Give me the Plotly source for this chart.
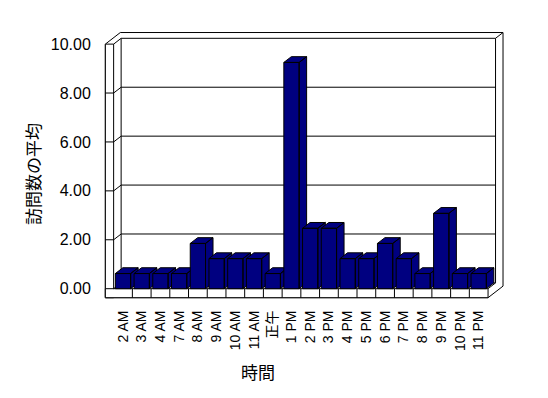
import plotly.graph_objects as go

# ---- data ----
categories = ["2 AM", "3 AM", "4 AM", "7 AM", "8 AM", "9 AM", "10 AM", "11 AM", "正午",
              "1 PM", "2 PM", "3 PM", "4 PM", "5 PM", "6 PM", "7 PM", "8 PM", "9 PM",
              "10 PM", "11 PM"]
avg_visits = [0.62, 0.62, 0.62, 0.62, 1.85, 1.23, 1.23, 1.23, 0.62,
              9.25, 2.47, 2.47, 1.23, 1.23, 1.85, 1.23, 0.62, 3.08,
              0.62, 0.62]
y_tick_values = [0, 2, 4, 6, 8, 10]
y_tick_labels = ["0.00", "2.00", "4.00", "6.00", "8.00", "10.00"]
x_title = "時間"
y_title = "訪問数の平均"

# ---- 3D-look styling parameters (in axis units) ----
BAR_W = 0.817      # bar front-face width (category units)
DX = 0.40          # depth offset along x (category units)
DY = 0.237         # depth offset along y (value units)
WALL_T = 0.443     # left wall thickness
FLOOR_T = 0.368    # floor thickness
NAVY = "#000080"
LINE = dict(color="black", width=1)

n = len(categories)
X0, X1 = -0.5, n - 0.5
Y0, Y1 = 0, 10

fig = go.Figure()

shapes = []

def seg(xa, ya, xb, yb):
    shapes.append(dict(type="line", xref="x", yref="y", x0=xa, y0=ya, x1=xb, y1=yb,
                       line=LINE, layer="below"))

def poly(pts, fill="white"):
    path = "M " + " L ".join(f"{x},{y}" for x, y in pts) + " Z"
    shapes.append(dict(type="path", xref="x", yref="y", path=path,
                       fillcolor=fill, line=LINE, layer="below"))

# outer silhouette of the box
poly([(X0 - WALL_T, Y0 - FLOOR_T), (X0 - WALL_T, Y1),
      (X0 - WALL_T + 2 * DX, Y1 + 2 * DY), (X1 + 2 * DX, Y1 + 2 * DY),
      (X1 + 2 * DX, Y0 - FLOOR_T + 2 * DY), (X1, Y0 - FLOOR_T)])
# back wall front face
poly([(X0 + DX, Y0 + DY), (X0 + DX, Y1 + DY), (X1 + DX, Y1 + DY), (X1 + DX, Y0 + DY)])
# left wall front face
poly([(X0 - WALL_T, Y0 - FLOOR_T), (X0 - WALL_T, Y1), (X0, Y1), (X0, Y0 - FLOOR_T)])
# floor front face
poly([(X0 - WALL_T, Y0 - FLOOR_T), (X0 - WALL_T, Y0), (X1, Y0), (X1, Y0 - FLOOR_T)])
# floor category cells
for i in range(n - 1):
    seg(i + 0.5, Y0 - FLOOR_T, i + 0.5, Y0)
# floor right edge, back wall top-right edge
seg(X1, Y0, X1 + DX, Y0 + DY)
seg(X1 + DX, Y1 + DY, X1 + 2 * DX, Y1 + 2 * DY)
# gridlines (back wall + left wall)
for v in y_tick_values:
    seg(X0, v, X0 + DX, v + DY)
    if 0 < v < 10:
        seg(X0 + DX, v + DY, X1 + DX, v + DY)
        seg(X0 - WALL_T, v, X0, v)

# bars: side, top and front faces drawn left to right
for i, v in enumerate(avg_visits):
    xl, xr = i - BAR_W / 2, i + BAR_W / 2
    side = [(xr, 0), (xr, v), (xr + DX, v + DY), (xr + DX, DY), (xr, 0)]
    top = [(xl, v), (xr, v), (xr + DX, v + DY), (xl + DX, v + DY), (xl, v)]
    front = [(xl, 0), (xr, 0), (xr, v), (xl, v), (xl, 0)]
    xs, ys = [], []
    for face in (side, top, front):
        xs += [p[0] for p in face] + [None]
        ys += [p[1] for p in face] + [None]
    fig.add_trace(go.Scatter(x=xs, y=ys, mode="lines", fill="toself",
                             fillcolor=NAVY, line=LINE, hoverinfo="skip",
                             showlegend=False, name=categories[i]))

fig.update_layout(
    width=548, height=398,
    margin=dict(l=104, r=44, t=31, b=99),
    paper_bgcolor="white", plot_bgcolor="white",
    font=dict(family="Liberation Sans, Noto Sans CJK JP, sans-serif", color="black"),
    shapes=shapes,
    xaxis=dict(range=[-1.015, 20.352], tickvals=list(range(n)), ticktext=categories,
               tickangle=-90, ticks="outside", ticklen=5, tickcolor="rgba(0,0,0,0)",
               showgrid=False, zeroline=False, showline=False,
               tickfont=dict(size=14)),
    yaxis=dict(range=[-0.421, 10.536], tickvals=y_tick_values, ticktext=y_tick_labels,
               ticks="outside", ticklen=9, tickcolor="rgba(0,0,0,0)",
               showgrid=False, zeroline=False, showline=False,
               tickfont=dict(size=16)),
    annotations=[
        dict(text=x_title, xref="paper", yref="paper", x=0.385, y=-0.272,
             xanchor="center", yanchor="middle", showarrow=False,
             font=dict(size=17, family="Noto Sans CJK JP")),
        dict(text=y_title, xref="paper", yref="paper", x=-0.18, y=0.4664,
             xanchor="center", yanchor="middle", showarrow=False, textangle=-90,
             font=dict(size=17, family="Noto Sans CJK JP")),
    ],
)

fig.write_html("out.html")
